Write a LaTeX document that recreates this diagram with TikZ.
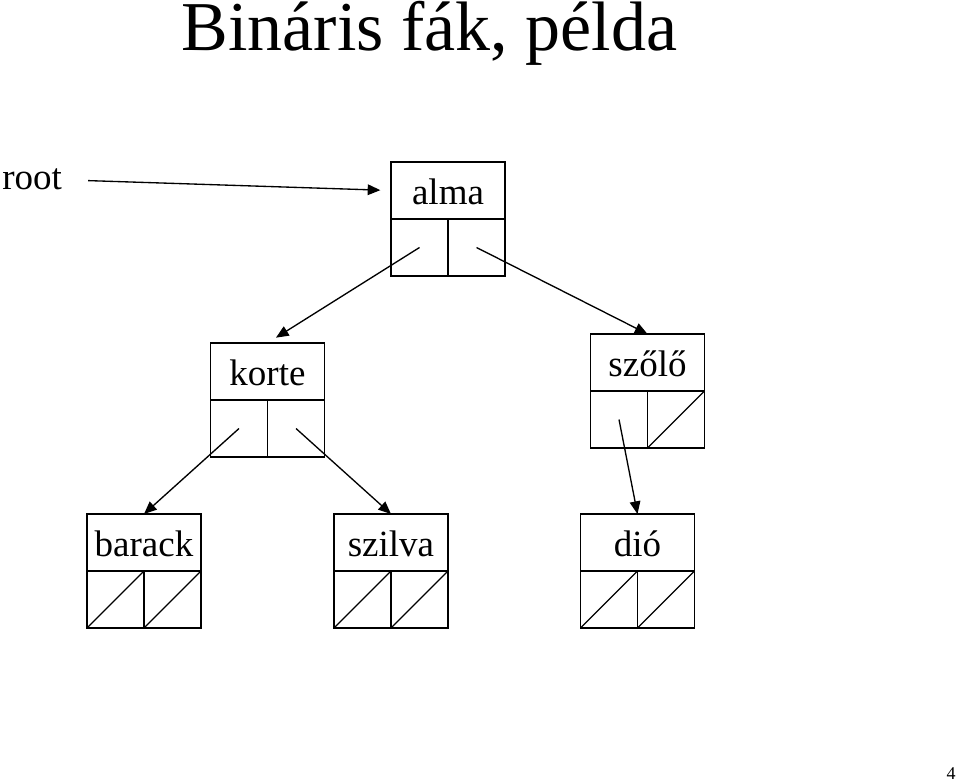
\documentclass[tikz,border=0pt]{standalone}
\usepackage{fontspec}
\setmainfont{Liberation Serif}
\usetikzlibrary{arrows.meta,calc}
\tikzset{
  ln/.style={line width=1pt},
  toph/.style={draw, ln, minimum width=85.5pt, minimum height=42.75pt, inner sep=0pt, outer sep=0pt,
    text height=21.6pt, text depth=0pt, font=\fontsize{27.75}{30}\selectfont},
  both/.style={draw, ln, minimum width=85.5pt, minimum height=42.75pt, inner sep=0pt, outer sep=0pt},
  arr/.style={ln, -{Triangle[length=9.5pt,width=8pt]}},
  lbl/.style={inner sep=0pt, font=\fontsize{27.75}{30}\selectfont},
}
\newcommand\treenode[4]{%
  \node[toph] (#1) at (#2,#3) {#4};
  \node[both, anchor=north] (#1B) at (#1.south) {};
  \draw[ln] (#1B.north) -- (#1B.south);
  \coordinate (#1L) at ($(#1B.center)!0.5!(#1B.west)$);
  \coordinate (#1R) at ($(#1B.center)!0.5!(#1B.east)$);
}
\newcommand\nullL[1]{\draw[ln] (#1B.south west) -- (#1B.north);}
\newcommand\nullR[1]{\draw[ln] (#1B.south) -- (#1B.north east);}
\begin{document}
\begin{tikzpicture}[x=0.75pt,y=-0.75pt]
\useasboundingbox (0,0) rectangle (960,781);
\node[inner sep=0pt, anchor=base, font=\fontsize{52.5}{60}\selectfont] (title) at (429.5,51) {Bináris fák, példa};
\node[lbl, anchor=base west] (root) at (2,190) {root};
\treenode{alma}{448}{190.5}{alma}
\treenode{korte}{267.5}{371.5}{korte}
\treenode{szolo}{647.5}{362.5}{szőlő}
\treenode{barack}{144}{542.5}{barack}
\treenode{szilva}{391}{542.5}{szilva}
\treenode{dio}{637.5}{542.5}{dió}
\nullR{szolo}
\nullL{barack}\nullR{barack}
\nullL{szilva}\nullR{szilva}
\nullL{dio}\nullR{dio}
\draw[arr, shorten <=19.5pt, shorten >=8pt] (root.east) -- (alma.west);
\draw[arr, shorten >=7.5pt] (almaL) -- (korte.north);
\draw[arr] (almaR) -- (szolo.north);
\draw[arr] (korteL) -- (barack.north);
\draw[arr] (korteR) -- (szilva.north);
\draw[arr] (szoloL) -- (dio.north);
\node[inner sep=0pt, anchor=base, font=\fontsize{13.5}{15}\selectfont] (page) at (951,779) {4};
\end{tikzpicture}
\end{document}
